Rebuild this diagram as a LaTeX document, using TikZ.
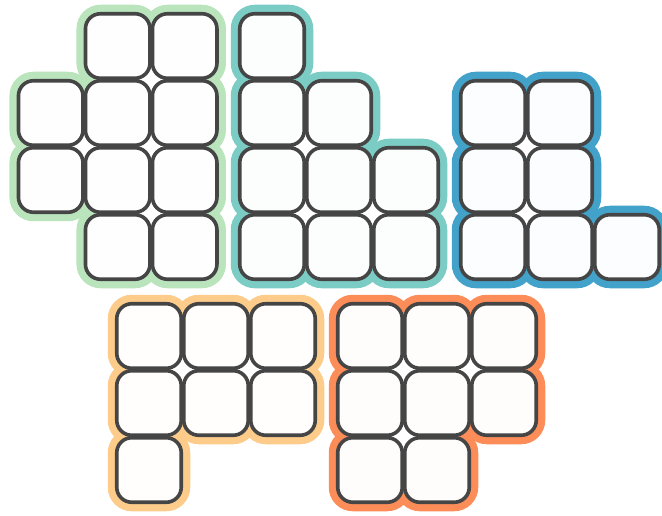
\documentclass[tikz,border=0pt]{standalone}
\definecolor{cGreen}{HTML}{BAE4BC}
\definecolor{cTeal}{HTML}{7BCCC4}
\definecolor{cBlue}{HTML}{43A2CA}
\definecolor{cYellow}{HTML}{FDCC8A}
\definecolor{cOrange}{HTML}{FC8D59}
\definecolor{cDark}{HTML}{454545}
\tikzset{
 halo/.style={shape=rectangle, fill=#1, draw=none, rounded corners=24pt, minimum size=82.5pt, inner sep=0pt, outer sep=0pt},
 cellbox/.style={shape=rectangle, fill=#1!2!white, draw=cDark, line width=3.6pt, rounded corners=15pt, minimum size=64.5pt, inner sep=0pt, outer sep=0pt},
 gapfill/.style={shape=rectangle, fill=white, draw=none, minimum size=24pt, inner sep=0pt}
}
\newcommand{\drawgroup}[6]{%
 \foreach \c/\r in {#5} \node[halo=#1] (#2h\c\r) at ({#3+67*\c},{#4+67*\r}) {};
 \foreach \c/\r in {#6} \node[gapfill] (#2d\c\r) at ({#3+67*\c+33.5},{#4+67*\r+33.5}) {};
 \foreach \c/\r in {#5} \node[cellbox=#1] (#2b\c\r) at ({#3+67*\c},{#4+67*\r}) {};
}
\begin{document}
\begin{tikzpicture}[x=1pt,y=-1pt]
\useasboundingbox (0,0) rectangle (662,516);
\fill[white] (0,0) rectangle (662,516);
\drawgroup{cGreen}{g}{50.7}{46}{1/0,2/0,0/1,1/1,2/1,0/2,1/2,2/2,1/3,2/3}{1/0,0/1,1/1,1/2}
\drawgroup{cTeal}{t}{272}{46}{0/0,0/1,1/1,0/2,1/2,2/2,0/3,1/3,2/3}{0/1,0/2,1/2}
\drawgroup{cBlue}{b}{493}{46}{0/1,1/1,0/2,1/2,0/3,1/3,2/3}{0/1,0/2}
\drawgroup{cYellow}{y}{149}{336}{0/0,1/0,2/0,0/1,1/1,2/1,0/2}{0/0,1/0}
\drawgroup{cOrange}{o}{370}{336}{0/0,1/0,2/0,0/1,1/1,2/1,0/2,1/2}{0/0,1/0,0/1}
\end{tikzpicture}
\end{document}
